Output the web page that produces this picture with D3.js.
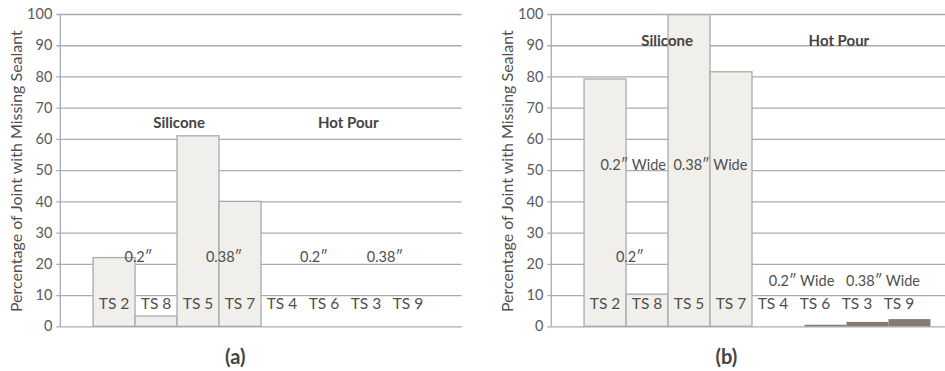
<!DOCTYPE html>
<html>
<head>
<meta charset="utf-8">
<script src="https://cdn.jsdelivr.net/npm/d3@7"></script>
<style>
  html, body { margin: 0; padding: 0; background: #fff; }
  svg { display: block; font-family: Lato, "Open Sans", sans-serif; }
</style>
</head>
<body>
<svg id="chart" width="945" height="371"></svg>
<script>
// Test sections along the joint
const categories = ["TS 2", "TS 8", "TS 5", "TS 7", "TS 4", "TS 6", "TS 3", "TS 9"];

// (a) percentage of joint with missing sealant
const valuesA = [22, 3.3, 61, 40, 0, 0, 0, 0];

// (b) silicone sections and hot-pour sections
const siliconeCatsB = ["TS 2", "TS 8", "TS 5", "TS 7"];
const siliconeB = [79.2, 10.3, 99.8, 81.5];
const hotPourCatsB = ["TS 4", "TS 6", "TS 3", "TS 9"];
const hotPourB = [0, 0.5, 1.4, 2.3];

const yTicks = [0, 10, 20, 30, 40, 50, 60, 70, 80, 90, 100];
const yTitle = "Percentage of Joint with Missing Sealant";

// Annotation text boxes: x in band steps from the first band, y in data units
const notesA = [
  { text: "Silicone", bold: true, at: 2.05, v: 65.3 },
  { text: "Hot Pour", bold: true, at: 6.08, v: 65.3 },
  { text: "0.2\u2033", at: 1.08, v: 22.1 },
  { text: "0.38\u2033", at: 3.12, v: 22.1 },
  { text: "0.2\u2033", at: 5.26, v: 22.1 },
  { text: "0.38\u2033", at: 6.95, v: 22.1 }
];
const notesB = [
  { text: "Silicone", bold: true, at: 1.98, v: 91.5 },
  { text: "Hot Pour", bold: true, at: 6.07, v: 91.5 },
  { text: "0.2\u2033 Wide", at: 1.17, v: 51.8 },
  { text: "0.38\u2033 Wide", at: 3.01, v: 51.8 },
  { text: "0.2\u2033", at: 1.09, v: 22.1 },
  { text: "0.2\u2033 Wide", at: 5.18, v: 14.6 },
  { text: "0.38\u2033 Wide", at: 7.12, v: 14.6 }
];

const svg = d3.select("#chart");
const plotTop = 14, plotBottom = 326.3, plotWidth = 401.4;
const gridColor = "#a9abb2";
const barFill = "#f1efeb";
const barStroke = "#a9a9b0";
const darkFill = "#857b72";
const textColor = "#4f4f4f";

const y = d3.scaleLinear().domain([0, 100]).range([plotBottom, plotTop]);

function panel(axisX, caption, lightCats, lightVals, darkCats, darkVals, notes) {
  const g = svg.append("g").attr("transform", `translate(${axisX},0)`);
  const x = d3.scaleBand().domain(categories).range([0, plotWidth])
    .paddingInner(0).paddingOuter(0.78);
  const step = x.step();

  // gridlines with small outside ticks
  const yAxis = d3.axisLeft(y).tickValues(yTicks).tickSize(-plotWidth).tickSizeOuter(0).tickPadding(8);
  const ax = g.append("g").call(yAxis);
  ax.select(".domain").remove();
  ax.selectAll(".tick line").attr("x1", -4).attr("stroke", gridColor).attr("stroke-width", 1.3);
  ax.selectAll(".tick text")
    .attr("fill", "#5a5a5c").attr("font-size", 14.5).attr("font-family", "Lato, sans-serif");

  // light bars
  const light = lightCats.map((c, i) => ({ c, v: lightVals[i] }));
  g.selectAll("rect.light").data(light).join("rect")
    .attr("class", "light")
    .attr("x", d => x(d.c))
    .attr("y", d => y(d.v))
    .attr("width", x.bandwidth())
    .attr("height", d => y(0) - y(d.v))
    .attr("fill", barFill)
    .attr("stroke", barStroke)
    .attr("stroke-width", 1.3);

  // dark bars, shifted a quarter step to the right
  if (darkCats) {
    const dark = darkCats.map((c, i) => ({ c, v: darkVals[i] })).filter(d => d.v > 0);
    g.selectAll("rect.dark").data(dark).join("rect")
      .attr("class", "dark")
      .attr("x", d => x(d.c) + step * 0.25)
      .attr("y", d => y(d.v))
      .attr("width", x.bandwidth())
      .attr("height", d => y(0) - y(d.v))
      .attr("fill", darkFill);
  }

  // vertical axis line
  g.append("line")
    .attr("x1", 0).attr("x2", 0)
    .attr("y1", y(100)).attr("y2", y(0))
    .attr("stroke", gridColor).attr("stroke-width", 1.3);

  // category labels inside the plot
  g.selectAll("text.cat").data(categories).join("text")
    .attr("class", "cat")
    .attr("x", d => x(d) + x.bandwidth() / 2)
    .attr("y", y(7.2))
    .attr("dy", "0.35em")
    .attr("text-anchor", "middle")
    .attr("font-size", 15.5)
    .attr("fill", textColor)
    .text(d => d);

  // annotation text boxes
  const x0 = x(categories[0]);
  g.selectAll("text.note").data(notes).join("text")
    .attr("class", "note")
    .attr("x", d => x0 + d.at * step)
    .attr("y", d => y(d.v))
    .attr("dy", "0.35em")
    .attr("text-anchor", "middle")
    .attr("font-size", d => d.bold ? 15 : 14.5)
    .attr("font-weight", d => d.bold ? 700 : 400)
    .attr("fill", d => d.bold ? "#444" : textColor)
    .text(d => d.text);

  // y-axis title
  g.append("text")
    .attr("transform", `translate(-44,${(plotTop + plotBottom) / 2 + 1}) rotate(-90)`)
    .attr("text-anchor", "middle")
    .attr("dy", "0.35em")
    .attr("font-size", 16)
    .attr("fill", textColor)
    .text(yTitle);

  // panel caption
  g.append("text")
    .attr("x", 175)
    .attr("y", 357)
    .attr("dy", "0.35em")
    .attr("text-anchor", "middle")
    .attr("font-size", 20)
    .attr("font-weight", 700)
    .attr("fill", "#444")
    .text(caption);
}

panel(60.3, "(a)", categories, valuesA, null, null, notesA);
panel(551.3, "(b)", siliconeCatsB, siliconeB, hotPourCatsB, hotPourB, notesB);
</script>
</body>
</html>
